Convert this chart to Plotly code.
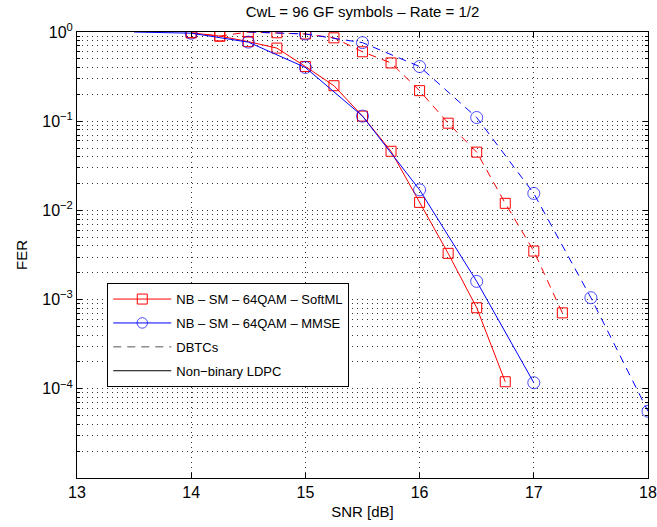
import plotly.graph_objects as go

# ---- data ----
red_solid_x = [14, 14.25, 14.5, 14.75, 15, 15.25, 15.5, 15.75, 16, 16.25, 16.5, 16.75]
red_solid_y = [0.98, 0.90, 0.78, 0.66, 0.41, 0.25, 0.114, 0.046, 0.0123, 0.0033, 0.00081, 0.00012]

red_dashed_x = [14, 14.25, 14.5, 14.75, 15, 15.25, 15.5, 15.75, 16, 16.25, 16.5, 16.75, 17, 17.25]
red_dashed_y = [0.98, 0.90, 1.0, 0.98, 0.95, 0.86, 0.60, 0.45, 0.22, 0.095, 0.045, 0.012, 0.0035, 0.00071]

blue_solid_x = [13.5, 14, 14.5, 15, 15.5, 16, 16.5, 17]
blue_solid_y = [1.0, 0.97, 0.77, 0.40, 0.114, 0.017, 0.0016, 0.000117]

blue_dashed_x = [14.5, 15, 15.5, 16, 16.5, 17, 17.5, 18]
blue_dashed_y = [1.0, 0.95, 0.76, 0.41, 0.11, 0.0155, 0.00105, 0.000056]

y_tick_vals = [1e-4, 1e-3, 1e-2, 1e-1, 1]
y_tick_text = ["10<sup>−4</sup>", "10<sup>−3</sup>", "10<sup>−2</sup>", "10<sup>−1</sup>", "10<sup>0</sup>"]

title_text = "CwL = 96 GF symbols – Rate = 1/2"
legend_names = ["NB – SM – 64QAM – SoftML", "NB – SM – 64QAM – MMSE", "DBTCs", "Non−binary LDPC"]

RED = "#ff0000"
BLUE = "#0000ff"
DASH = "8px,6px"
FONT = "Liberation Sans, Arial, sans-serif"

fig = go.Figure()

sq = dict(symbol="square-open", size=10, color=RED, line=dict(width=1, color=RED))
ci = dict(symbol="circle-open", size=12, color=BLUE, line=dict(width=1, color=BLUE))

fig.add_trace(go.Scatter(x=red_dashed_x, y=red_dashed_y, mode="lines+markers",
                         line=dict(color=RED, width=1, dash=DASH), marker=sq, showlegend=False))
fig.add_trace(go.Scatter(x=blue_dashed_x, y=blue_dashed_y, mode="lines+markers",
                         line=dict(color=BLUE, width=1, dash=DASH),
                         marker=dict(ci, size=[0] + [12] * (len(blue_dashed_x) - 1)),
                         showlegend=False))
fig.add_trace(go.Scatter(x=red_solid_x, y=red_solid_y, mode="lines+markers",
                         line=dict(color=RED, width=1), marker=sq, name=legend_names[0],
                         legendgroup="g1"))
fig.add_trace(go.Scatter(x=blue_solid_x, y=blue_solid_y, mode="lines+markers",
                         line=dict(color=BLUE, width=1),
                         marker=dict(ci, size=[0] + [12] * (len(blue_solid_x) - 1)),
                         name=legend_names[1], legendgroup="g2"))
# legend-only entries
fig.add_trace(go.Scatter(x=[None], y=[None], mode="lines",
                         line=dict(color="#555555", width=1, dash=DASH), name=legend_names[2],
                         legendgroup="g3"))
fig.add_trace(go.Scatter(x=[None], y=[None], mode="lines",
                         line=dict(color="black", width=1), name=legend_names[3],
                         legendgroup="g4"))

grid_common = dict(gridcolor="#333333", gridwidth=1, griddash="1px,4px")

fig.update_layout(
    width=657, height=527,
    margin=dict(l=77, r=9, t=32, b=49, autoexpand=False),
    paper_bgcolor="white", plot_bgcolor="white",
    font=dict(family=FONT, size=15, color="black"),
    title=dict(text=title_text, x=0.5, xref="paper", xanchor="center",
               y=1 - 12 / 527, yref="container", yanchor="middle",
               font=dict(family=FONT, size=15, color="black")),
    legend=dict(x=0.053, y=0.437, xanchor="left", yanchor="top",
                bgcolor="white", bordercolor="black", borderwidth=1,
                font=dict(family=FONT, size=13, color="black"),
                tracegroupgap=4, itemwidth=58),
    showlegend=True,
)

fig.update_xaxes(
    range=[13, 18], dtick=1, tick0=13, automargin=False,
    showline=True, linecolor="black", linewidth=1, mirror="ticks",
    ticks="inside", ticklen=5, tickcolor="black",
    showgrid=True, zeroline=False, **grid_common,
    title=dict(text="SNR [dB]", standoff=6, font=dict(family=FONT, size=15)),
    tickfont=dict(family=FONT, size=16),
)
fig.update_yaxes(
    type="log", range=[-5, 0], automargin=False,
    tickvals=y_tick_vals, ticktext=y_tick_text,
    showline=True, linecolor="black", linewidth=1, mirror="ticks",
    ticks="inside", ticklen=5, tickcolor="black",
    showgrid=True, zeroline=False, **grid_common,
    minor=dict(dtick="D1", ticks="inside", ticklen=3, tickcolor="black",
               showgrid=True, **grid_common),
    title=dict(text="FER", standoff=10, font=dict(family=FONT, size=15)),
    tickfont=dict(family=FONT, size=16),
)

fig.write_html("out.html")
